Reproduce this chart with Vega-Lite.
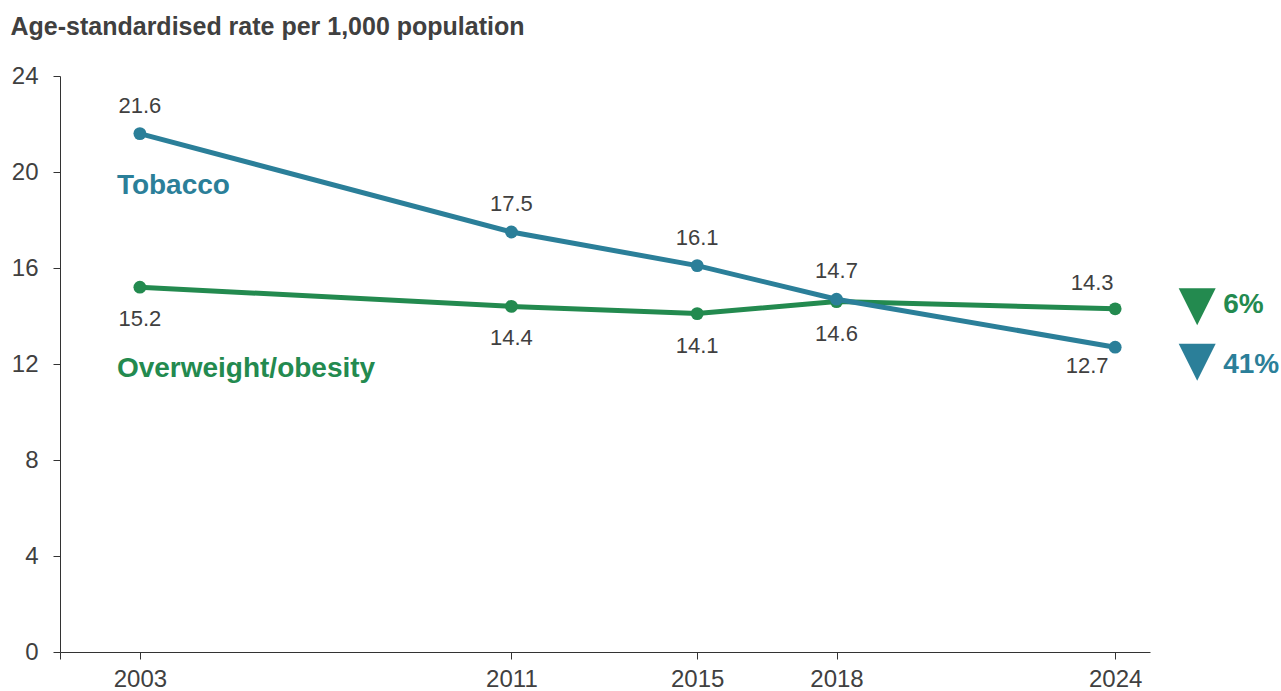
{
  "$schema": "https://vega.github.io/schema/vega-lite/v6.json",
  "width": 1090,
  "height": 576,
  "autosize": {"type": "none"},
  "padding": {"left": 60, "top": 76, "right": 131, "bottom": 39},
  "background": "white",
  "config": {
    "view": {"stroke": null},
    "font": "Liberation Sans",
    "axis": {
      "domainColor": "#333333",
      "tickColor": "#333333",
      "labelColor": "#404040",
      "labelFont": "Liberation Sans",
      "labelFontSize": 24,
      "grid": false,
      "tickSize": 7
    }
  },
  "data": {
    "values": [
      {"series": "Overweight/obesity", "year": 2003, "rate": 15.2},
      {"series": "Overweight/obesity", "year": 2011, "rate": 14.4},
      {"series": "Overweight/obesity", "year": 2015, "rate": 14.1},
      {"series": "Overweight/obesity", "year": 2018, "rate": 14.6},
      {"series": "Overweight/obesity", "year": 2024, "rate": 14.3, "change": "6%"},
      {"series": "Tobacco", "year": 2003, "rate": 21.6},
      {"series": "Tobacco", "year": 2011, "rate": 17.5},
      {"series": "Tobacco", "year": 2015, "rate": 16.1},
      {"series": "Tobacco", "year": 2018, "rate": 14.7},
      {"series": "Tobacco", "year": 2024, "rate": 12.7, "change": "41%"}
    ]
  },
  "encoding": {
    "x": {
      "field": "year",
      "type": "quantitative",
      "scale": {"domain": [2001.28, 2024.75], "nice": false, "zero": false},
      "axis": {
        "values": [2001.28, 2003, 2011, 2015, 2018, 2024],
        "labelExpr": "datum.value < 2002 ? '' : format(datum.value, 'd')",
        "title": null,
        "labelPadding": 8,
        "labelFlush": false,
        "labelOverlap": false
      }
    },
    "y": {
      "field": "rate",
      "type": "quantitative",
      "scale": {"domain": [0, 24], "nice": false},
      "axis": {
        "values": [0, 4, 8, 12, 16, 20, 24],
        "labelPadding": 15,
        "title": "Age-standardised rate per 1,000 population",
        "titleAngle": 0,
        "titleAlign": "left",
        "titleBaseline": "alphabetic",
        "titleX": -50,
        "titleY": -42,
        "titleFont": "Liberation Sans",
        "titleFontSize": 25,
        "titleFontWeight": "bold",
        "titleColor": "#404040"
      }
    }
  },
  "layer": [
    {
      "transform": [{"filter": "datum.series === 'Overweight/obesity'"}],
      "mark": {"type": "line", "color": "#238a4f", "strokeWidth": 5, "point": {"filled": true, "size": 165, "color": "#238a4f", "opacity": 1}}
    },
    {
      "transform": [{"filter": "datum.series === 'Tobacco'"}],
      "mark": {"type": "line", "color": "#2b7f99", "strokeWidth": 5, "point": {"filled": true, "size": 165, "color": "#2b7f99", "opacity": 1}}
    },
    {
      "transform": [{"filter": "datum.series === 'Tobacco' && datum.year !== 2024"}],
      "mark": {"type": "text", "fontSize": 22, "color": "#404040", "baseline": "alphabetic", "dy": -21},
      "encoding": {"text": {"field": "rate", "type": "quantitative", "format": ".1f"}}
    },
    {
      "transform": [{"filter": "datum.series === 'Tobacco' && datum.year === 2024"}],
      "mark": {"type": "text", "fontSize": 22, "color": "#404040", "baseline": "alphabetic", "dx": -28, "dy": 26},
      "encoding": {"text": {"field": "rate", "type": "quantitative", "format": ".1f"}}
    },
    {
      "transform": [{"filter": "datum.series === 'Overweight/obesity' && datum.year !== 2024"}],
      "mark": {"type": "text", "fontSize": 22, "color": "#404040", "baseline": "alphabetic", "dy": 39},
      "encoding": {"text": {"field": "rate", "type": "quantitative", "format": ".1f"}}
    },
    {
      "transform": [{"filter": "datum.series === 'Overweight/obesity' && datum.year === 2024"}],
      "mark": {"type": "text", "fontSize": 22, "color": "#404040", "baseline": "alphabetic", "dx": -23, "dy": -19},
      "encoding": {"text": {"field": "rate", "type": "quantitative", "format": ".1f"}}
    },
    {
      "transform": [{"filter": "datum.series === 'Tobacco' && datum.year === 2003"}],
      "mark": {"type": "text", "fontSize": 28, "fontWeight": "bold", "color": "#2b7f99", "align": "left", "baseline": "alphabetic", "dx": -23, "dy": 60},
      "encoding": {"text": {"field": "series"}}
    },
    {
      "transform": [{"filter": "datum.series === 'Overweight/obesity' && datum.year === 2003"}],
      "mark": {"type": "text", "fontSize": 28, "fontWeight": "bold", "color": "#238a4f", "align": "left", "baseline": "alphabetic", "dx": -23, "dy": 90},
      "encoding": {"text": {"field": "series"}}
    },
    {
      "transform": [{"filter": "datum.series === 'Overweight/obesity' && datum.change"}],
      "mark": {"type": "point", "shape": "M-1,-1L1,-1L0,1Z", "size": 1369, "filled": true, "opacity": 1, "color": "#238a4f", "xOffset": 82, "yOffset": -2, "clip": false}
    },
    {
      "transform": [{"filter": "datum.series === 'Tobacco' && datum.change"}],
      "mark": {"type": "point", "shape": "M-1,-1L1,-1L0,1Z", "size": 1369, "filled": true, "opacity": 1, "color": "#2b7f99", "xOffset": 82, "yOffset": 15, "clip": false}
    },
    {
      "transform": [{"filter": "datum.series === 'Overweight/obesity' && datum.change"}],
      "mark": {"type": "text", "fontSize": 28, "fontWeight": "bold", "color": "#238a4f", "align": "left", "baseline": "alphabetic", "dx": 108, "dy": 4},
      "encoding": {"text": {"field": "change"}}
    },
    {
      "transform": [{"filter": "datum.series === 'Tobacco' && datum.change"}],
      "mark": {"type": "text", "fontSize": 28, "fontWeight": "bold", "color": "#2b7f99", "align": "left", "baseline": "alphabetic", "dx": 108, "dy": 26},
      "encoding": {"text": {"field": "change"}}
    }
  ]
}
